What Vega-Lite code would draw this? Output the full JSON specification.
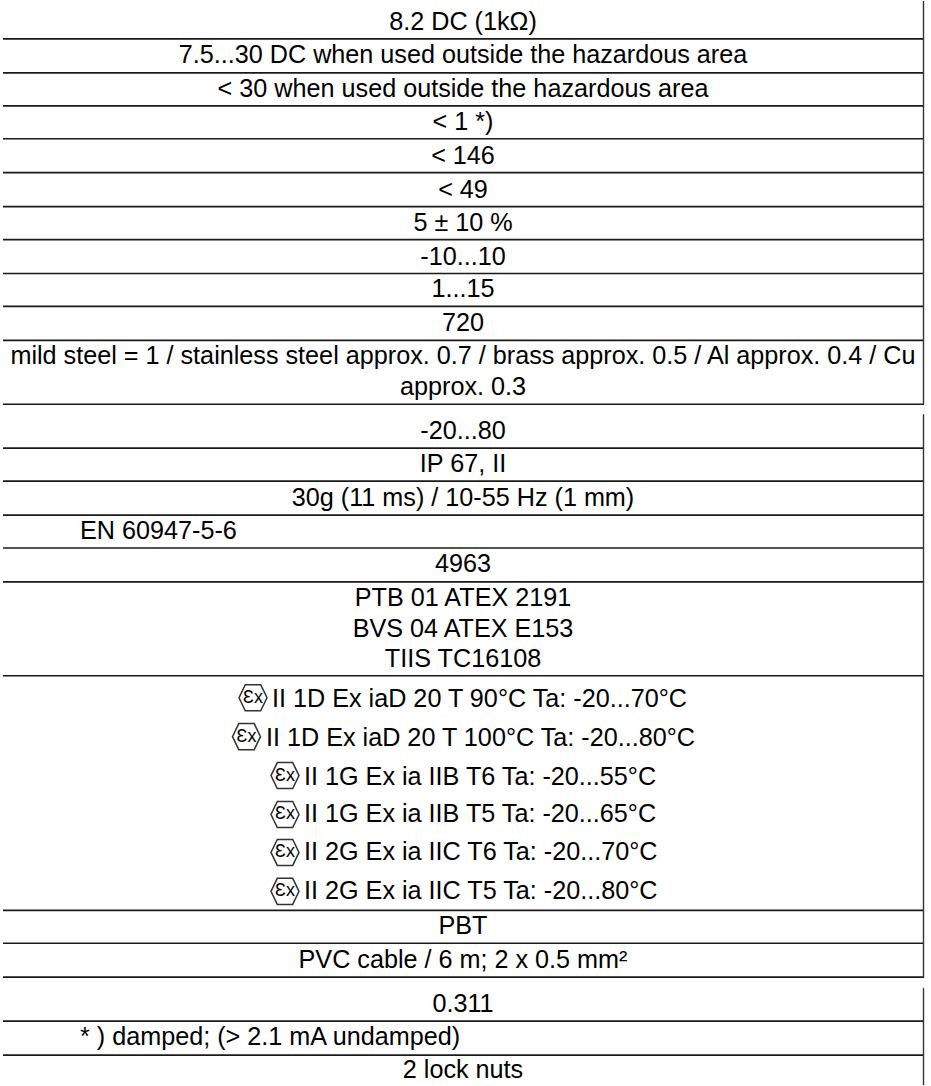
{
"$schema":"https://vega.github.io/schema/vega-lite/v6.json",
"autosize":{"type":"fit","contains":"padding"},
"width":931,"height":1086,"padding":0,
"background":"white",
"view":{"stroke":null},
"config":{"text":{"font":"Liberation Sans","fontSize":25.2,"color":"#000000"}},
"datasets":{
"hlines":[{"pos":38},{"pos":72},{"pos":105},{"pos":138},{"pos":172},{"pos":206},{"pos":239},{"pos":273},{"pos":306},{"pos":340},{"pos":404},{"pos":448},{"pos":481},{"pos":515},{"pos":548},{"pos":582},{"pos":676},{"pos":911},{"pos":944},{"pos":978},{"pos":1022},{"pos":1056}],
"vlines":[{"from":0,"to":404},{"from":414,"to":978},{"from":989,"to":1086}],
"center":[
{"t":"8.2 DC (1kΩ)","pos":29},
{"t":"7.5...30 DC when used outside the hazardous area","pos":62},
{"t":"< 30 when used outside the hazardous area","pos":96},
{"t":"< 1 *)","pos":129},
{"t":"< 146","pos":163},
{"t":"< 49","pos":197},
{"t":"5 ± 10 %","pos":230},
{"t":"-10...10","pos":264},
{"t":"1...15","pos":297},
{"t":"720","pos":331},
{"t":"mild steel = 1 / stainless steel approx. 0.7 / brass approx. 0.5 / Al approx. 0.4 / Cu","pos":364},
{"t":"approx. 0.3","pos":395},
{"t":"-20...80","pos":439},
{"t":"IP 67, II","pos":472},
{"t":"30g (11 ms) / 10-55 Hz (1 mm)","pos":506},
{"t":"4963","pos":572},
{"t":"PTB 01 ATEX 2191","pos":606},
{"t":"BVS 04 ATEX E153","pos":637},
{"t":"TIIS TC16108","pos":667},
{"t":"PBT","pos":935},
{"t":"PVC cable / 6 m; 2 x 0.5 mm²","pos":969},
{"t":"0.311","pos":1013},
{"t":"2 lock nuts","pos":1079}
],
"left":[
{"t":"EN 60947-5-6","col":80,"pos":539},
{"t":"* ) damped; (> 2.1 mA undamped)","col":80,"pos":1046},
{"t":"II 1D Ex iaD 20 T 90°C Ta: -20...70°C","col":272,"pos":707},
{"t":"II 1D Ex iaD 20 T 100°C Ta: -20...80°C","col":266,"pos":746},
{"t":"II 1G Ex ia IIB T6 Ta: -20...55°C","col":304,"pos":785},
{"t":"II 1G Ex ia IIB T5 Ta: -20...65°C","col":304,"pos":823},
{"t":"II 2G Ex ia IIC T6 Ta: -20...70°C","col":304,"pos":861},
{"t":"II 2G Ex ia IIC T5 Ta: -20...80°C","col":304,"pos":900}
],
"ex":[
{"g":"Ɛx","col":253,"pos":698},
{"g":"Ɛx","col":246.5,"pos":737},
{"g":"Ɛx","col":285,"pos":776},
{"g":"Ɛx","col":285,"pos":815},
{"g":"Ɛx","col":285,"pos":853},
{"g":"Ɛx","col":285,"pos":892}
]
},
"layer":[
{"data":{"name":"hlines"},
 "mark":{"type":"rule","stroke":"#1a1a1a","strokeWidth":1.7},
 "encoding":{
  "y":{"field":"pos","type":"quantitative","scale":{"domain":[0,1086],"reverse":true,"nice":false,"zero":false},"axis":null},
  "x":{"datum":3,"type":"quantitative","scale":{"domain":[0,931],"nice":false,"zero":false},"axis":null},
  "x2":{"datum":924}}},
{"data":{"name":"vlines"},
 "mark":{"type":"rule","stroke":"#333333","strokeWidth":1.4},
 "encoding":{
  "x":{"datum":923.5,"type":"quantitative"},
  "y":{"field":"from","type":"quantitative"},
  "y2":{"field":"to"}}},
{"data":{"name":"center"},
 "mark":{"type":"text","align":"center","baseline":"alphabetic"},
 "encoding":{
  "x":{"datum":463,"type":"quantitative"},
  "y":{"field":"pos","type":"quantitative"},
  "text":{"field":"t"}}},
{"data":{"name":"left"},
 "mark":{"type":"text","align":"left","baseline":"alphabetic"},
 "encoding":{
  "x":{"field":"col","type":"quantitative"},
  "y":{"field":"pos","type":"quantitative"},
  "text":{"field":"t"}}},
{"data":{"name":"ex"},
 "mark":{"type":"point","filled":false,"stroke":"#333333","strokeWidth":1.5,"opacity":1,"shape":"M-0.55,-0.93 L0.55,-0.93 L1,0 L0.55,0.93 L-0.55,0.93 L-1,0 Z","size":784},
 "encoding":{
  "x":{"field":"col","type":"quantitative"},
  "y":{"field":"pos","type":"quantitative"}}},
{"data":{"name":"ex"},
 "mark":{"type":"text","align":"center","baseline":"middle","fontSize":18},
 "encoding":{
  "x":{"field":"col","type":"quantitative"},
  "y":{"field":"pos","type":"quantitative"},
  "text":{"field":"g"}}}
]
}
